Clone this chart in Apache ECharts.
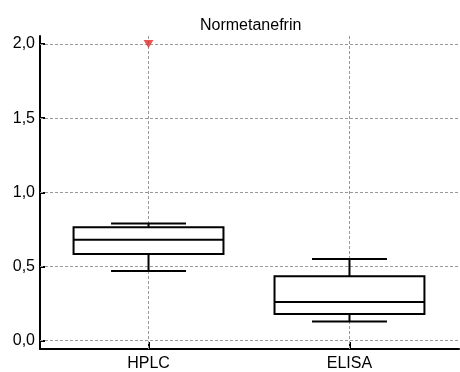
<!DOCTYPE html>
<html>
<head>
<meta charset="utf-8">
<script src="https://cdn.jsdelivr.net/npm/echarts@6/dist/echarts.min.js"></script>
<style>
  html, body { margin: 0; padding: 0; background: #fff; }
  #main { width: 460px; height: 372px; }
</style>
</head>
<body>
<div id="main"></div>
<script>
// box stats: [min, q1, median, q3, max]
var categories = ['HPLC', 'ELISA'];
var hplcStats = [0.47, 0.585, 0.68, 0.765, 0.79];
var elisaStats = [0.13, 0.18, 0.26, 0.435, 0.55];
var outliers = [[1, 2.0]];
var yTicks = [0, 0.5, 1, 1.5, 2];
var xTicks = [1, 2];

var boxes = [
  [1].concat(hplcStats),
  [2].concat(elisaStats)
];

var gridStyle = { color: '#999', width: 1, type: [3, 2] };

function renderBox(params, api) {
  var x = api.value(0);
  var lo = api.coord([x, api.value(1)]);
  var q1 = api.coord([x, api.value(2)]);
  var md = api.coord([x, api.value(3)]);
  var q3 = api.coord([x, api.value(4)]);
  var hi = api.coord([x, api.value(5)]);
  var half = api.size([0.746, 0])[0] / 2;
  var cap = half / 2;
  var cx = md[0];
  var st = { stroke: '#000', lineWidth: 2, fill: null };
  return {
    type: 'group',
    children: [
      { type: 'line', shape: { x1: cx, y1: q3[1], x2: cx, y2: hi[1] }, style: st },
      { type: 'line', shape: { x1: cx, y1: q1[1], x2: cx, y2: lo[1] }, style: st },
      { type: 'line', shape: { x1: cx - cap, y1: hi[1], x2: cx + cap, y2: hi[1] }, style: st },
      { type: 'line', shape: { x1: cx - cap, y1: lo[1], x2: cx + cap, y2: lo[1] }, style: st },
      { type: 'rect', shape: { x: cx - half, y: q3[1], width: half * 2, height: q1[1] - q3[1] },
        style: { stroke: '#000', lineWidth: 2, fill: '#fff' } },
      { type: 'line', shape: { x1: cx - half, y1: md[1], x2: cx + half, y2: md[1] }, style: st }
    ]
  };
}

var font = 'Liberation Sans';
var chart = echarts.init(document.getElementById('main'));
chart.setOption({
  animation: false,
  backgroundColor: '#fff',
  title: {
    text: 'Normetanefrin',
    left: 195, top: 13, padding: 5,
    textStyle: { fontFamily: font, fontSize: 16, fontWeight: 'normal', color: '#000' }
  },
  grid: { left: 40, right: 1, top: 36, bottom: 21 },
  xAxis: {
    type: 'value', min: 0.46, max: 2.545,
    axisLine: { onZero: false, lineStyle: { color: '#000', width: 2 } },
    axisTick: { show: true, inside: true, length: 7, customValues: xTicks, lineStyle: { color: '#000', width: 2 } },
    axisLabel: {
      customValues: xTicks, margin: 7,
      formatter: function (v) { return categories[Math.round(v) - 1] || ''; },
      fontFamily: font, fontSize: 16, color: '#000'
    },
    splitLine: { show: false }
  },
  yAxis: {
    type: 'value', min: -0.056, max: 2.054,
    axisLine: { show: true, onZero: false, lineStyle: { color: '#000', width: 2 } },
    axisTick: { show: true, inside: true, length: 5, customValues: yTicks, lineStyle: { color: '#000', width: 2 } },
    axisLabel: {
      customValues: yTicks, margin: 5,
      formatter: function (v) { return v.toFixed(1).replace('.', ','); },
      fontFamily: font, fontSize: 16, color: '#000'
    },
    splitLine: { show: false }
  },
  series: [
    {
      type: 'custom',
      renderItem: renderBox,
      data: boxes,
      z: 3,
      markLine: {
        silent: true, symbol: 'none', label: { show: false },
        lineStyle: gridStyle, z: 1,
        data: xTicks.map(function (v) { return { xAxis: v }; })
          .concat(yTicks.map(function (v) { return { yAxis: v }; }))
      }
    },
    {
      type: 'scatter',
      data: outliers,
      symbol: 'triangle', symbolRotate: 180, symbolSize: [10, 8],
      itemStyle: { color: '#e32b2b' },
      z: 4
    }
  ]
});
</script>
</body>
</html>
